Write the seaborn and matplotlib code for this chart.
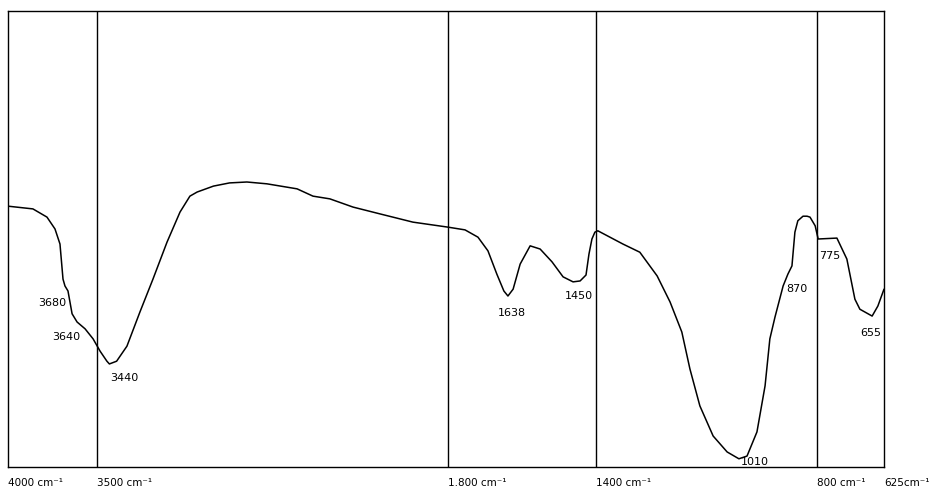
import numpy as np
import pandas as pd
import matplotlib
matplotlib.use("Agg")
import matplotlib.pyplot as plt
import seaborn as sns

# spectrum (wavenumber cm-1, transmittance %)
wavenumber = [4000, 3860, 3781, 3736, 3708, 3691, 3680, 3663, 3640, 3612,
              3567, 3522, 3485, 3452, 3440, 3405, 3355, 3292, 3229, 3161,
              3098, 3050, 3015, 2936, 2858, 2774, 2677, 2531, 2454, 2372,
              2260, 2129, 1970, 1800, 1754, 1719, 1692, 1668, 1649, 1638,
              1624, 1605, 1578, 1551, 1519, 1489, 1462, 1443, 1427, 1419,
              1411, 1403, 1395, 1327, 1281, 1234, 1199, 1167, 1145, 1118,
              1082, 1044, 1012, 990, 963, 941, 928, 914, 892, 879,
              868, 860, 852, 838, 827, 819, 805, 797, 748, 722,
              701, 688, 656, 641, 625]
transmittance = [57.2, 56.6, 54.8, 52.2, 48.9, 41.2, 39.7, 38.6, 33.6, 31.8,
                 30.3, 28.1, 25.4, 23.2, 22.6, 23.2, 26.5, 34.0, 41.2, 49.3,
                 55.9, 59.4, 60.3, 61.6, 62.3, 62.5, 62.1, 61.0, 59.4, 58.8,
                 57.0, 55.5, 53.7, 52.6, 52.0, 50.4, 47.4, 42.3, 38.6, 37.5,
                 39.0, 44.5, 48.5, 47.8, 45.0, 41.7, 40.6, 40.8, 42.1, 46.7,
                 50.0, 51.5, 51.8, 48.9, 47.1, 41.9, 36.2, 29.6, 21.5, 13.4,
                 6.8, 3.3, 1.8, 2.4, 7.7, 17.8, 28.1, 32.9, 39.7, 42.3,
                 44.1, 51.5, 54.0, 55.0, 55.0, 54.8, 52.9, 50.0, 50.2, 45.6,
                 36.8, 34.6, 33.1, 35.3, 39.0]

# chart breaks of the recorder paper
breaks = [4000, 3500, 1800, 1400, 800, 625]
break_labels = ["4000 cm⁻¹", "3500 cm⁻¹", "1.800 cm⁻¹",
                "1400 cm⁻¹", "800 cm⁻¹", "625cm⁻¹"]
break_pos = [0, 89, 440, 588, 809, 876]

# band annotations
band_labels = ["3680", "3640", "3440", "1638", "1450", "1010", "870", "775", "655"]
band_x = [3753, 3674, 3366, 1627, 1446, 968, 855, 766, 659]
band_y = [36.2, 28.7, 19.7, 34.0, 37.7, 1.3, 39.3, 46.5, 29.6]

df = pd.DataFrame({"wn": wavenumber, "T": transmittance})

wn_asc = breaks[::-1]
pos_asc = [876 - p for p in break_pos[::-1]]


def fwd(w):
    return np.interp(w, wn_asc, pos_asc)


def inv(p):
    return np.interp(p, pos_asc, wn_asc)


sns.set_style("white")
plt.rcParams["text.color"] = "black"
plt.rcParams["xtick.color"] = "black"

fig = plt.figure(figsize=(9.32, 4.89), dpi=100)
ax = fig.add_axes([8 / 932, 1 - 468 / 489, 876 / 932, 456 / 489])
ax.set_xscale("function", functions=(fwd, inv))

sns.lineplot(data=df, x="wn", y="T", sort=False, estimator=None,
             color="black", linewidth=1.1, ax=ax)

for b in breaks[1:-1]:
    ax.axvline(b, color="black", linewidth=1.0)

ax.set_xlim(4000, 625)
ax.set_ylim(0, 100)
ax.set_xticks(breaks)
ax.set_xticklabels(break_labels, ha="left", fontsize=7.5)
ax.tick_params(axis="x", length=0, pad=7)
ax.set_yticks([])
ax.set_xlabel("")
ax.set_ylabel("")
for s in ax.spines.values():
    s.set_color("black")
    s.set_linewidth(1.0)

for lab, x, y in zip(band_labels, band_x, band_y):
    ax.text(x, y, lab, fontsize=8, ha="center", va="center")

fig.savefig("out.png", dpi=100)
